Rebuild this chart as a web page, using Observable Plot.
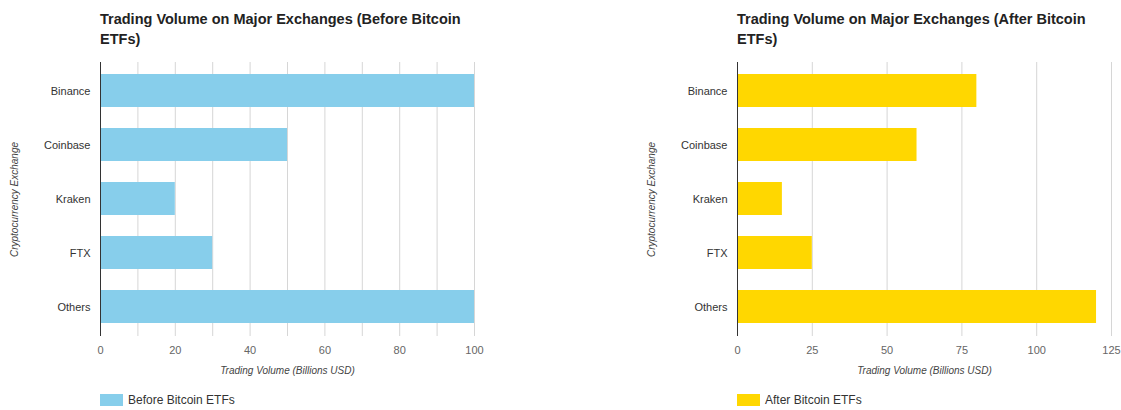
<!DOCTYPE html>
<html>
<head>
<meta charset="utf-8">
<script src="https://cdn.jsdelivr.net/npm/d3@7"></script>
<script src="https://cdn.jsdelivr.net/npm/@observablehq/plot@0.6"></script>
<style>
  html, body { margin: 0; padding: 0; background: #fff; }
  body { width: 1121px; height: 410px; position: relative; overflow: hidden; font-family: "Liberation Sans", Arial, sans-serif; }
  .chart { position: absolute; top: 0; }
  .title { position: absolute; left: 100px; top: 9px; font-weight: bold; font-size: 14.5px; line-height: 20px; color: #222; }
  .legend { position: absolute; left: 100px; top: 393px; display: flex; align-items: center; font-size: 12px; color: #333; }
  .swatch { width: 23px; height: 12px; margin-right: 5px; }
  svg { position: absolute; left: 0; top: 0; }
</style>
</head>
<body>
<div id="left" class="chart" style="left:0px;width:520px;height:410px"></div>
<div id="right" class="chart" style="left:637px;width:484px;height:410px"></div>
<script>
const exchanges = ["Binance", "Coinbase", "Kraken", "FTX", "Others"];
const beforeVolumes = [100, 50, 20, 30, 100];
const afterVolumes = [80, 60, 15, 25, 120];
const beforeTicks = [0, 20, 40, 60, 80, 100];
const beforeGrid = [0, 10, 20, 30, 40, 50, 60, 70, 80, 90, 100];
const afterTicks = [0, 25, 50, 75, 100, 125];
const afterGrid = [0, 25, 50, 75, 100, 125];
const titles = ["Trading Volume on Major Exchanges (Before Bitcoin", "ETFs)", "Trading Volume on Major Exchanges (After Bitcoin", "ETFs)"];
const seriesNames = ["Before Bitcoin ETFs", "After Bitcoin ETFs"];
const colors = ["#87CEEB", "#FFD700"];
const xLabel = "Trading Volume (Billions USD)";
const yLabel = "Cryptocurrency Exchange";

function draw(el, values, ticks, grid, domainMax, width, marginRight, titleLines, name, color) {
  const data = exchanges.map((e, i) => ({exchange: e, value: values[i]}));
  const plot = Plot.plot({
    width, height: 386,
    marginLeft: 100, marginRight, marginTop: 62, marginBottom: 50,
    style: {fontFamily: '"Liberation Sans", Arial, sans-serif', background: "transparent"},
    x: {domain: [0, domainMax]},
    y: {domain: exchanges, paddingInner: 0.38, paddingOuter: 0.19, align: 0.5},
    marks: [
      Plot.ruleX(grid, {stroke: "#d6d6d6", strokeWidth: 1}),
      Plot.barX(data, {y: "exchange", x: "value", fill: color}),
      Plot.ruleX([0], {stroke: "#333", strokeWidth: 1}),
      Plot.axisX({ticks, tickSize: 0, tickPadding: 10, fontSize: 11, fill: "#666", label: null}),
      Plot.axisY({tickSize: 0, tickPadding: 10, fontSize: 11, fill: "#333", label: null}),
      Plot.text([xLabel], {frameAnchor: "bottom", dy: 37, fontSize: 10, fontStyle: "italic", fill: "#444"}),
      Plot.text([yLabel], {frameAnchor: "left", dx: -86, rotate: -90, textAnchor: "middle", fontSize: 10, fontStyle: "italic", fill: "#444"})
    ]
  });
  el.appendChild(plot);
  const t = document.createElement("div");
  t.className = "title";
  t.innerHTML = titleLines[0] + "<br>" + titleLines[1];
  el.appendChild(t);
  const lg = document.createElement("div");
  lg.className = "legend";
  lg.innerHTML = `<div class="swatch" style="background:${color}"></div><span>${name}</span>`;
  el.appendChild(lg);
}

draw(document.getElementById("left"), beforeVolumes, beforeTicks, beforeGrid, 100, 520, 46, titles.slice(0, 2), seriesNames[0], colors[0]);
draw(document.getElementById("right"), afterVolumes, afterTicks, afterGrid, 125, 484, 10, titles.slice(2, 4), seriesNames[1], colors[1]);
</script>
</body>
</html>
